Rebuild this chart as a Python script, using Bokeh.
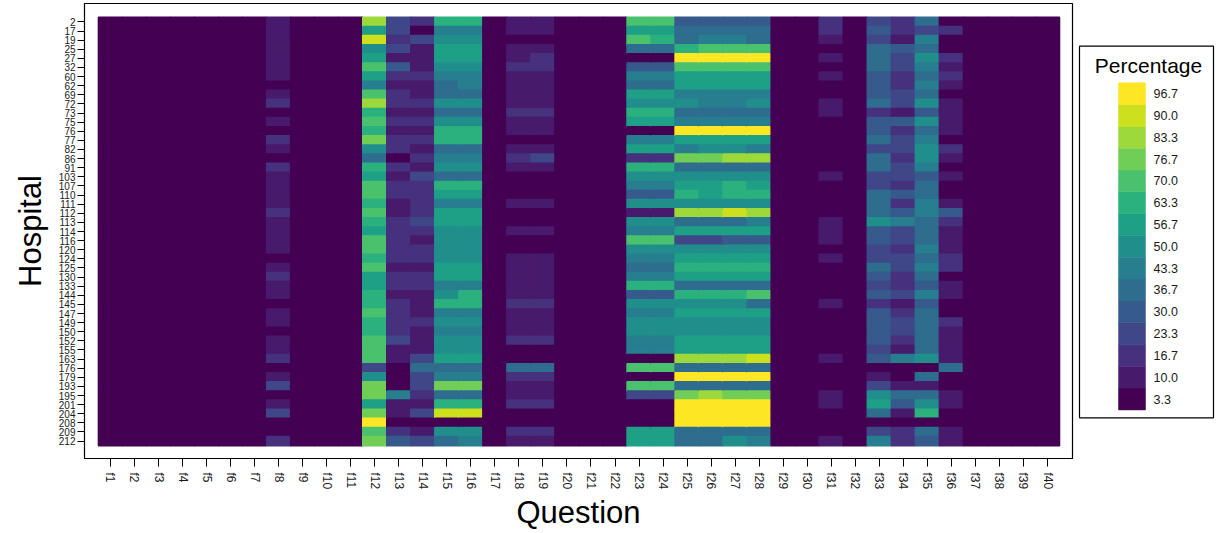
import math
from bokeh.plotting import figure
from bokeh.models import ColumnDataSource, LinearColorMapper, FixedTicker, Range1d
from bokeh.transform import transform
from bokeh.palettes import Viridis256, linear_palette
from bokeh.layouts import row
from bokeh.embed import file_html
from bokeh.resources import INLINE
from bokeh.core.properties import value

# ---------------- data ----------------
hospitals = ["2", "17", "19", "25", "27", "32", "60", "62", "69", "72", "73", "75", "76", "77",
             "82", "86", "91", "103", "107", "110", "111", "112", "113", "114", "116", "120",
             "124", "125", "130", "133", "144", "145", "147", "149", "150", "152", "155", "163",
             "176", "179", "193", "195", "201", "204", "208", "209", "212"]
questions = ["f%d" % i for i in range(1, 41)]
legend_levels = [3.3, 10.0, 16.7, 23.3, 30.0, 36.7, 43.3, 50.0, 56.7, 63.3, 70.0, 76.7, 83.3, 90.0, 96.7]

# percentages per question, in hospital order (top to bottom)
lowest = [3, 3, 3, 3, 3, 3, 3, 3, 3, 3, 3, 3, 3, 3, 3, 3, 3, 3, 3, 3, 3, 3, 3, 3,
          3, 3, 3, 3, 3, 3, 3, 3, 3, 3, 3, 3, 3, 3, 3, 3, 3, 3, 3, 3, 3, 3, 3]
f8 = [10, 10, 10, 10, 10, 10, 10, 3, 10, 17, 3, 10, 3, 17, 10, 3, 17, 10, 10, 10,
      10, 17, 10, 10, 10, 10, 3, 10, 17, 10, 10, 3, 10, 10, 3, 10, 10, 17, 3, 10,
      23, 3, 10, 23, 3, 3, 17]
f12 = [83, 57, 90, 50, 57, 70, 57, 43, 70, 83, 63, 70, 63, 77, 50, 37, 63, 57, 70, 70,
       63, 70, 63, 57, 70, 70, 63, 70, 57, 57, 63, 63, 70, 63, 63, 70, 70, 70, 23, 50,
       77, 77, 57, 77, 97, 70, 77]
f13 = [23, 23, 17, 23, 10, 30, 17, 10, 17, 17, 10, 17, 10, 17, 17, 3, 17, 10, 17, 17,
       10, 10, 17, 17, 17, 17, 17, 10, 17, 17, 10, 17, 17, 17, 17, 23, 10, 10, 3, 3,
       3, 43, 10, 10, 3, 17, 30]
f14 = [17, 3, 23, 10, 10, 10, 17, 10, 10, 17, 10, 17, 10, 17, 10, 17, 10, 23, 17, 17,
       17, 17, 23, 17, 10, 17, 17, 10, 17, 17, 10, 10, 10, 17, 10, 10, 10, 23, 37, 23,
       23, 17, 10, 23, 3, 10, 23]
f15 = [63, 43, 50, 57, 57, 50, 43, 37, 37, 50, 37, 50, 63, 63, 37, 43, 50, 37, 63, 57,
       43, 57, 57, 50, 50, 50, 50, 57, 57, 43, 50, 63, 43, 50, 43, 50, 50, 57, 37, 43,
       77, 37, 63, 90, 3, 50, 37]
f16 = [63, 43, 50, 57, 57, 50, 43, 43, 37, 50, 37, 50, 63, 63, 37, 43, 50, 37, 63, 57,
       43, 57, 57, 50, 50, 50, 50, 57, 57, 43, 63, 63, 43, 50, 43, 50, 50, 57, 37, 43,
       77, 37, 63, 90, 3, 50, 43]
f18 = [10, 10, 3, 10, 10, 17, 10, 10, 10, 10, 17, 10, 10, 3, 10, 17, 10, 3, 3, 3,
       10, 3, 3, 10, 3, 3, 10, 10, 10, 10, 10, 17, 10, 10, 10, 17, 3, 3, 37, 17,
       10, 10, 17, 3, 3, 17, 10]
f19 = [10, 10, 3, 10, 17, 17, 10, 10, 10, 10, 17, 10, 10, 3, 10, 23, 10, 3, 3, 3,
       10, 3, 3, 10, 3, 3, 10, 10, 10, 10, 10, 17, 10, 10, 10, 17, 3, 3, 37, 17,
       10, 10, 17, 3, 3, 17, 10]
f23 = [70, 57, 70, 37, 3, 30, 43, 37, 57, 50, 63, 57, 3, 43, 57, 17, 63, 50, 43, 30,
       50, 10, 50, 43, 70, 50, 43, 37, 43, 63, 30, 50, 43, 50, 50, 43, 43, 3, 70, 3,
       70, 23, 3, 3, 3, 57, 57]
f24 = [70, 57, 63, 37, 3, 30, 43, 37, 57, 50, 63, 57, 3, 43, 57, 17, 63, 50, 43, 30,
       50, 10, 50, 43, 70, 50, 43, 37, 43, 63, 30, 50, 43, 50, 50, 43, 43, 3, 70, 3,
       70, 23, 3, 3, 3, 57, 57]
f25 = [30, 37, 37, 63, 97, 70, 57, 57, 43, 50, 37, 43, 97, 57, 43, 77, 37, 50, 57, 63,
       50, 83, 37, 57, 23, 50, 57, 63, 57, 37, 63, 50, 57, 50, 50, 57, 57, 83, 37, 97,
       37, 77, 97, 97, 97, 37, 37]
f26 = [30, 37, 43, 70, 97, 70, 57, 57, 43, 43, 37, 43, 97, 57, 50, 77, 37, 50, 57, 57,
       50, 83, 37, 57, 23, 50, 57, 63, 57, 37, 63, 50, 57, 50, 50, 57, 57, 83, 37, 97,
       37, 83, 97, 97, 97, 37, 37]
f27 = [30, 37, 43, 70, 97, 70, 57, 57, 43, 43, 37, 43, 97, 57, 50, 83, 37, 50, 63, 63,
       50, 90, 37, 57, 30, 50, 57, 63, 57, 37, 63, 50, 57, 50, 50, 57, 57, 83, 37, 97,
       37, 77, 97, 97, 97, 37, 50]
f28 = [30, 37, 37, 70, 97, 70, 57, 57, 43, 50, 37, 43, 97, 57, 43, 83, 37, 50, 57, 63,
       50, 83, 43, 57, 30, 50, 57, 63, 57, 37, 70, 37, 57, 50, 50, 57, 57, 90, 37, 97,
       37, 77, 97, 97, 97, 37, 43]
f31 = [17, 17, 10, 3, 10, 3, 10, 3, 3, 10, 10, 3, 3, 3, 3, 3, 3, 10, 3, 3,
       3, 3, 10, 10, 10, 3, 10, 3, 3, 3, 3, 10, 3, 3, 3, 3, 3, 10, 3, 3,
       3, 10, 10, 3, 3, 3, 10]
f33 = [23, 30, 23, 37, 37, 37, 30, 30, 30, 37, 17, 30, 30, 37, 23, 37, 37, 23, 23, 37,
       37, 37, 50, 30, 30, 23, 23, 37, 30, 23, 30, 17, 30, 30, 30, 30, 23, 30, 3, 10,
       23, 50, 57, 37, 3, 23, 43]
f34 = [17, 17, 10, 30, 23, 23, 17, 17, 23, 23, 10, 30, 17, 23, 23, 17, 23, 23, 17, 30,
       17, 30, 43, 23, 23, 17, 23, 23, 17, 17, 23, 10, 17, 23, 23, 17, 10, 43, 3, 3,
       10, 37, 30, 10, 3, 17, 17]
f35 = [37, 23, 43, 37, 50, 43, 37, 43, 37, 50, 30, 50, 37, 43, 50, 50, 43, 30, 37, 37,
       43, 43, 37, 37, 37, 43, 37, 43, 37, 30, 43, 30, 37, 37, 37, 37, 37, 50, 3, 37,
       10, 37, 50, 63, 3, 37, 30]
f36 = [3, 17, 3, 3, 17, 10, 17, 10, 3, 10, 10, 10, 10, 3, 17, 10, 3, 10, 3, 3,
       10, 30, 17, 10, 10, 10, 17, 17, 3, 10, 10, 3, 3, 17, 10, 10, 10, 10, 37, 3,
       3, 10, 10, 3, 3, 10, 10]

columns = {
    "f1": lowest, "f2": lowest, "f3": lowest, "f4": lowest, "f5": lowest, "f6": lowest,
    "f7": lowest, "f8": f8, "f9": lowest, "f10": lowest, "f11": lowest, "f12": f12,
    "f13": f13, "f14": f14, "f15": f15, "f16": f16, "f17": lowest, "f18": f18, "f19": f19,
    "f20": lowest, "f21": lowest, "f22": lowest, "f23": f23, "f24": f24, "f25": f25,
    "f26": f26, "f27": f27, "f28": f28, "f29": lowest, "f30": lowest, "f31": f31,
    "f32": lowest, "f33": f33, "f34": f34, "f35": f35, "f36": f36, "f37": lowest,
    "f38": lowest, "f39": lowest, "f40": lowest,
}

# ---------------- build source ----------------
n_h = len(hospitals)
xs, ys, vs = [], [], []
for qi, q in enumerate(questions):
    vals = columns[q]
    assert len(vals) == n_h, q
    for hi, v in enumerate(vals):
        xs.append(qi + 1)
        ys.append(n_h - hi)
        vs.append(v)
src = ColumnDataSource(dict(x=xs, y=ys, v=vs))

palette = linear_palette(Viridis256, len(legend_levels))
mapper = LinearColorMapper(palette=palette, low=0, high=100)

FONT = "Liberation Sans"
TOP, BOTTOM = 3, 71

p = figure(width=1075, height=533,
           x_range=Range1d(-0.08, 41.04), y_range=Range1d(-0.91, 49.02),
           output_backend="svg", toolbar_location=None,
           min_border_left=84, min_border_right=3, min_border_top=TOP, min_border_bottom=BOTTOM)
p.rect(x="x", y="y", width=1, height=1, source=src,
       fill_color=transform("v", mapper), line_color=transform("v", mapper), line_width=1.5)

p.xgrid.visible = False
p.ygrid.visible = False
p.outline_line_color = "black"
p.outline_line_width = 1.2
p.background_fill_color = "white"
p.border_fill_color = "white"

xa = p.xaxis[0]
xa.ticker = FixedTicker(ticks=list(range(1, len(questions) + 1)))
xa.major_label_overrides = {i + 1: q for i, q in enumerate(questions)}
xa.major_label_orientation = "vertical"
xa.major_label_text_font = FONT
xa.major_label_text_font_size = "12px"
xa.major_label_text_color = "#1a1a1a"
xa.major_label_standoff = 6
xa.major_tick_out = 8
xa.major_tick_in = 0
xa.minor_tick_line_color = None
xa.major_tick_line_color = "black"
xa.axis_line_color = "black"
xa.axis_label = "Question"
xa.axis_label_text_font = FONT
xa.axis_label_text_font_size = "31px"
xa.axis_label_text_font_style = "normal"
xa.axis_label_text_color = "black"
xa.axis_label_standoff = 3

ya = p.yaxis[0]
ya.ticker = FixedTicker(ticks=list(range(1, n_h + 1)))
ya.major_label_overrides = {n_h - i: h for i, h in enumerate(hospitals)}
ya.major_label_text_font = FONT
ya.major_label_text_font_size = "10px"
ya.major_label_text_color = "#1a1a1a"
ya.major_label_standoff = 2
ya.major_tick_out = 7
ya.major_tick_in = 0
ya.minor_tick_line_color = None
ya.major_tick_line_color = "black"
ya.axis_line_color = "black"
ya.axis_label = "Hospital"
ya.axis_label_text_font = FONT
ya.axis_label_text_font_size = "31px"
ya.axis_label_text_font_style = "normal"
ya.axis_label_text_color = "black"
ya.axis_label_standoff = 8

# ---------------- legend panel ----------------
# frame spans the same rows as the main panel: y=0 at page y 462, y=459 at page y 3
lg = figure(width=144, height=533, x_range=Range1d(0, 144), y_range=Range1d(0, 459),
            output_backend="svg", toolbar_location=None,
            x_axis_type=None, y_axis_type=None,
            min_border_left=0, min_border_right=0, min_border_top=TOP, min_border_bottom=BOTTOM)
lg.xgrid.visible = False
lg.ygrid.visible = False
lg.outline_line_color = None
lg.border_fill_color = "white"
lg.background_fill_color = "white"

# legend box
lg.quad(left=[4], right=[138], bottom=[41], top=[416], fill_color=None,
        line_color="black", line_width=1.2)

n_l = len(legend_levels)
lsrc = ColumnDataSource(dict(
    bottom=[49 + 22 * i for i in range(n_l)],
    top=[71 + 22 * i for i in range(n_l)],
    mid=[60 + 22 * i for i in range(n_l)],
    label=["%.1f" % lv for lv in legend_levels],
    color=list(palette),
))
lg.quad(left=43, right=70, bottom="bottom", top="top", fill_color="color",
        line_color="color", line_width=0.5, source=lsrc)
lg.text(x=78, y="mid", text="label", source=lsrc, text_font=value(FONT),
        text_font_size="12.5px", text_baseline="middle", text_align="left",
        text_color="#1a1a1a")
lg.text(x=[73], y=[396], text=["Percentage"], text_font=value(FONT),
        text_font_size="21px", text_baseline="middle", text_align="center",
        text_color="black")

layout = row(p, lg, spacing=0)
open("out.html", "w").write(file_html(layout, INLINE))
